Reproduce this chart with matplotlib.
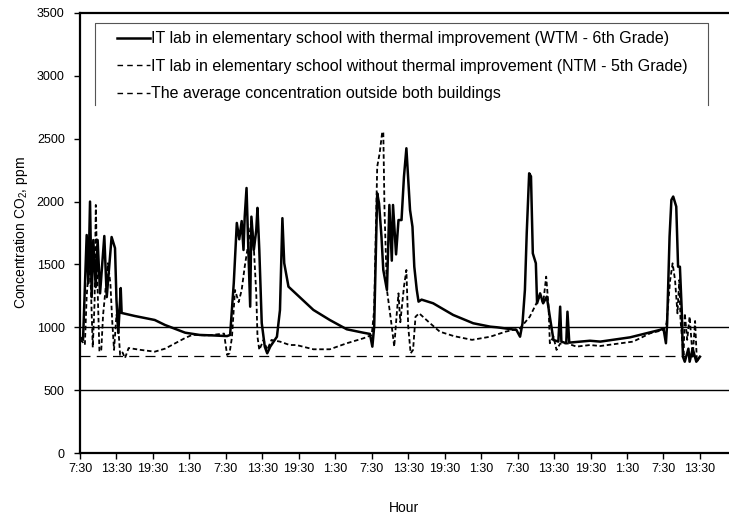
"""CO2 concentration in two IT labs vs. outside average, over ~4 school days."""

import matplotlib
matplotlib.use("Agg")
import matplotlib.pyplot as plt
from matplotlib.lines import Line2D

plt.rcParams["font.family"] = ["Liberation Sans", "DejaVu Sans"]
plt.rcParams["mathtext.fontset"] = "custom"
plt.rcParams["mathtext.rm"] = "Liberation Sans"

# hours since 7:30 on day 1
wtm_hours = [0, 0.5, 1.1, 1.37, 1.65, 1.92, 2.19, 2.58, 2.9, 3.3, 4.0, 4.4, 5.2, 5.76,
             6.0, 6.3, 6.7, 6.85, 9, 12.3, 14, 17.3, 19.7, 22, 24.2, 24.7, 25.3, 25.8,
             26.2, 26.6, 26.9, 27.1, 27.4, 27.7, 28.0, 28.2, 28.6, 29.0, 29.2, 29.5,
             29.9, 30.4, 30.8, 31.3, 32.4, 32.9, 33.3, 33.6, 34.3, 38.4, 41.1, 43.9,
             46.6, 47.7, 48.1, 48.4, 48.9, 49.2, 49.6, 49.9, 50.5, 50.9, 51.3, 51.5,
             52.0, 52.4, 52.9, 53.3, 53.7, 54.3, 54.7, 55.0, 55.4, 55.7, 56.2, 58.1,
             61.4, 64.7, 67.5, 68.6, 71.8, 72.4, 72.8, 73.2, 73.5, 73.9, 74.2, 74.5,
             75.0, 75.2, 75.7, 76.2, 76.8, 77.3, 77.9, 78.7, 79.0, 79.2, 80.0, 80.2,
             80.5, 83.9, 85.6, 90.5, 95.4, 96.0, 96.4, 96.6, 97.0, 97.3, 97.6, 98.1,
             98.4, 98.7, 99.0, 99.2, 99.5, 100.1, 100.3, 100.8, 101.4, 102.0]
wtm_ppm = [920, 900, 1734, 1350, 2000, 1240, 1694, 1320, 1694, 1270, 1726, 1240, 1718, 1630,
           1217, 955, 1312, 1114, 1090, 1058, 1018, 957, 939, 935, 930, 939, 1352, 1830,
           1700, 1845, 1615, 1880, 2108, 1615, 1164, 1880, 1615, 1774, 1950, 1615,
           1034, 846, 793, 846, 925, 1137, 1868, 1510, 1323, 1138, 1058, 984,
           957, 947, 846, 1005, 2066, 1986, 1721, 1456, 1297, 1973, 1530, 1973,
           1580, 1853, 1853, 2198, 2424, 1933, 1800, 1482, 1300, 1204, 1220, 1191,
           1098, 1032, 1005, 1000, 979, 925, 1030, 1297, 1750, 2225, 2200, 1588,
           1509, 1191, 1270, 1191, 1244, 1084, 899, 886, 1164, 886, 873, 1124,
           878, 893, 886, 920, 979, 990, 873, 1032, 1721, 2013, 2040, 1960,
           1482, 1482, 1138, 766, 726, 830, 726, 830, 726, 766]

ntm_hours = [0, 0.5, 0.8, 1.1, 1.5, 1.8, 2.1, 2.4, 2.6, 2.9, 3.2, 3.5, 3.8, 4.1, 4.6,
             5.0, 5.3, 5.6, 6.0, 6.3, 6.6, 7.0, 7.4, 8.0, 10, 12.3, 14, 17.3, 18.5, 21,
             23.7, 24.2, 24.6, 25.0, 25.5, 26.1, 26.6, 27.1, 27.7, 28.2, 28.6, 29.0,
             29.2, 29.5, 30.2, 30.8, 31.5, 32.9, 34.5, 35.6, 38.4, 41.1, 43.9, 46.6,
             48.0, 48.4, 48.9, 49.3, 49.7, 49.9, 50.1, 50.5, 51.3, 51.7, 52.1, 52.4,
             52.7, 53.3, 53.7, 54.0, 54.4, 54.8, 55.2, 55.8, 57.6, 59.2, 61.5, 64.5,
             67.5, 70.0, 72.4, 74.0, 75.1, 75.7, 76.2, 76.7, 77.1, 77.3, 77.9, 78.4,
             79.0, 80.1, 81.7, 83.9, 85.6, 91.0, 93.8, 96.0, 96.5, 97.1, 97.5, 97.9,
             98.3, 98.6, 98.8, 99.3, 99.5, 99.9, 100.3, 100.8, 101.2, 101.5, 102.1]
ntm_ppm = [900, 880, 860, 1250, 1500, 1300, 840, 1200, 1973, 1300, 806, 820, 1100, 1250, 1510,
           1350, 1050, 820, 1100, 1000, 780, 800, 755, 835, 820, 806, 830, 915, 940, 935,
           950, 780, 793, 920, 1297, 1200, 1297, 1482, 1668, 1853, 1630, 1270,
           925, 820, 900, 820, 899, 886, 859, 859, 825, 825, 873, 912,
           939, 1138, 2278, 2384, 2543, 2556, 1933, 1297, 1005, 846, 1100, 1270,
           1040, 1323, 1456, 1005, 793, 820, 1084, 1111, 1032, 965, 930, 900,
           925, 965, 992, 1084, 1191, 1250, 1191, 1403, 1160, 873, 925, 820,
           870, 873, 846, 859, 851, 886, 952, 979, 1032, 1376, 1509, 1376,
           1111, 1376, 1058, 766, 1111, 900, 1085, 766, 1050, 726, 780]

outside_hours = [0, 99.5]
outside_ppm = [770, 770]

tick_hours = list(range(0, 103, 6))
tick_labels = ["7:30", "13:30", "19:30", "1:30"] * 4 + ["7:30", "13:30"]
ref_levels = [500, 1000]

fig = plt.figure(figsize=(7.29, 5.19), dpi=100)
ax = fig.add_axes([80 / 729, 66 / 519, 649 / 729, 440 / 519])

for lvl in ref_levels:
    ax.axhline(lvl, color="black", linewidth=1.0, zorder=1)

ax.plot(outside_hours, outside_ppm, color="black", linewidth=0.9,
        linestyle=(0, (8, 5)), zorder=2)
ax.plot(ntm_hours, ntm_ppm, color="black", linewidth=1.3,
        linestyle=(0, (2.5, 1.5)), zorder=3)
ax.plot(wtm_hours, wtm_ppm, color="black", linewidth=1.8, zorder=4)

ax.set_xlim(0, 649 / 6.078)
ax.set_ylim(0, 3500)
ax.set_yticks(range(0, 3501, 500))
ax.set_xticks(tick_hours)
ax.set_xticklabels(tick_labels)
ax.tick_params(axis="both", direction="out", length=4, width=1.0, labelsize=9)
ax.tick_params(axis="x", pad=3)
ax.tick_params(axis="y", pad=7)

for side in ["top", "left", "bottom"]:
    ax.spines[side].set_linewidth(1.6)
ax.spines["right"].set_visible(False)

ax.set_ylabel(r"Concentration CO$_\mathregular{2}$, ppm", fontsize=10, labelpad=5)
ax.set_xlabel("Hour", fontsize=10, labelpad=19)

handles = [
    Line2D([], [], color="black", linewidth=1.8),
    Line2D([], [], color="black", linewidth=1.0, linestyle=(0, (4, 3))),
    Line2D([], [], color="black", linewidth=1.0, linestyle=(0, (4, 3))),
]
labels = [
    "IT lab in elementary school with thermal improvement (WTM - 6th Grade)",
    "IT lab in elementary school without thermal improvement (NTM - 5th Grade)",
    "The average concentration outside both buildings",
]
ax.legend(handles, labels, loc="upper left", bbox_to_anchor=(0.057, 0.958),
          frameon=False, fontsize=11.5, handlelength=2.05, handletextpad=0.1,
          labelspacing=0.78, borderpad=0, borderaxespad=0)

# open-bottomed legend frame as in the original
ax.plot([0.023, 0.023, 0.968, 0.968], [0.791, 0.977, 0.977, 0.791],
        transform=ax.transAxes, color="#555555", linewidth=0.8, clip_on=False)

fig.savefig("out.png", dpi=100)
